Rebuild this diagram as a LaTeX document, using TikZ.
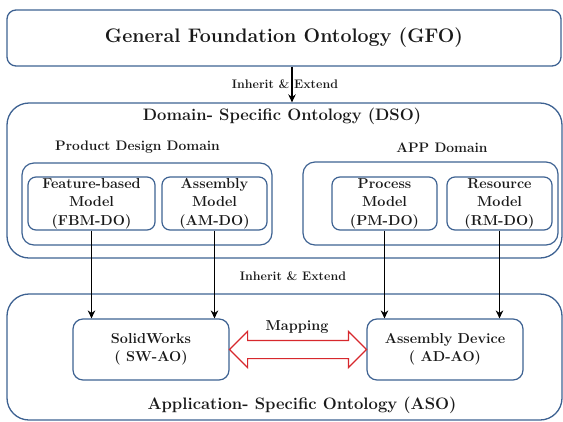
\documentclass[tikz,border=0pt]{standalone}
\usetikzlibrary{arrows.meta,shapes.arrows,calc}
\definecolor{boxblue}{RGB}{62,98,146}
\definecolor{txtgray}{RGB}{25,25,25}
\definecolor{mapred}{RGB}{215,40,45}

\begin{document}
\begin{tikzpicture}[x=1pt, y=-1pt,
    outer/.style={rectangle, draw=boxblue, line width=1.3pt, rounded corners=22pt, inner sep=0pt},
    group/.style={rectangle, draw=boxblue, line width=1.2pt, rounded corners=12pt, inner sep=0pt},
    model/.style={rectangle, draw=boxblue, line width=1.2pt, rounded corners=8pt, align=center, inner sep=0pt, text=txtgray, font=\fontsize{14.4}{18.5}\selectfont\bfseries},
    title/.style={text=txtgray, inner sep=0pt, font=\fontsize{16.6}{19}\selectfont\bfseries},
    domlabel/.style={text=txtgray, inner sep=0pt, font=\fontsize{13.8}{16}\selectfont\bfseries},
    note/.style={text=txtgray, inner sep=0pt, font=\fontsize{12.4}{14}\selectfont\bfseries},
    inherit/.style={-{Stealth[length=8pt, width=7.5pt]}, line width=1.7pt, black}]
    \useasboundingbox (0,0) rectangle (563,421);

    % General layer
    \node[outer, rounded corners=9pt, minimum width=554, minimum height=56, text=txtgray, font=\fontsize{19.6}{22}\selectfont\bfseries] (GFO) at (284,38) {General Foundation Ontology (GFO)};

    % Domain layer
    \node[outer, minimum width=555, minimum height=155] (DSO) at (284.5,180.5) {};
    \node[title] (DSOtitle) at (282,116) {Domain- Specific Ontology (DSO)};

    \node[group, minimum width=250, minimum height=82] (PDD) at (147,204) {};
    \node[domlabel] (PDDlabel) at (137.5,147) {Product Design Domain};
    \node[group, minimum width=255, minimum height=83] (APPD) at (430.5,203.5) {};
    \node[domlabel] (APPDlabel) at (442,148) {APP Domain};

    \node[model, minimum width=127, minimum height=53] (FBM) at (91.5,203.5) {Feature-based\\Model\\(FBM-DO)};
    \node[model, minimum width=105, minimum height=53] (AM) at (214.5,203.5) {Assembly\\Model\\(AM-DO)};
    \node[model, minimum width=105, minimum height=53] (PM) at (384.5,203.5) {Process\\Model\\(PM-DO)};
    \node[model, minimum width=105, minimum height=53] (RM) at (499.5,203.5) {Resource\\Model\\(RM-DO)};

    % Application layer
    \node[outer, minimum width=555, minimum height=126] (ASO) at (284.5,357) {};
    \node[title] (ASOtitle) at (302,405) {Application- Specific Ontology (ASO)};

    \node[model, rounded corners=10pt, minimum width=156, minimum height=61] (SW) at (151,349.5) {SolidWorks\\( SW-AO)};
    \node[model, rounded corners=10pt, minimum width=156, minimum height=61] (AD) at (445,349.5) {Assembly Device\\( AD-AO)};

    % Mapping
    \node[double arrow, draw=mapred, line width=1.2pt, fill=white, inner sep=8.5pt, minimum height=137, double arrow head extend=9pt] (MAP) at ($(SW.east)!0.5!(AD.west)$) {};
    \node[model, draw=none] (MAPlabel) at (297,327) {Mapping};

    % Connections
    \node[note] (IE1) at (285,84) {Inherit \& Extend};
    \draw[inherit] ([xshift=8]GFO.south) -- ([xshift=8]GFO.south |- DSO.north);

    \node[note] (IE2) at (293,276) {Inherit \& Extend};
    \foreach \m/\t in {FBM/SW, AM/SW, PM/AD, RM/AD} {
        \draw[inherit] (\m.south) -- (\m.south |- \t.north);
    }
\end{tikzpicture}
\end{document}
